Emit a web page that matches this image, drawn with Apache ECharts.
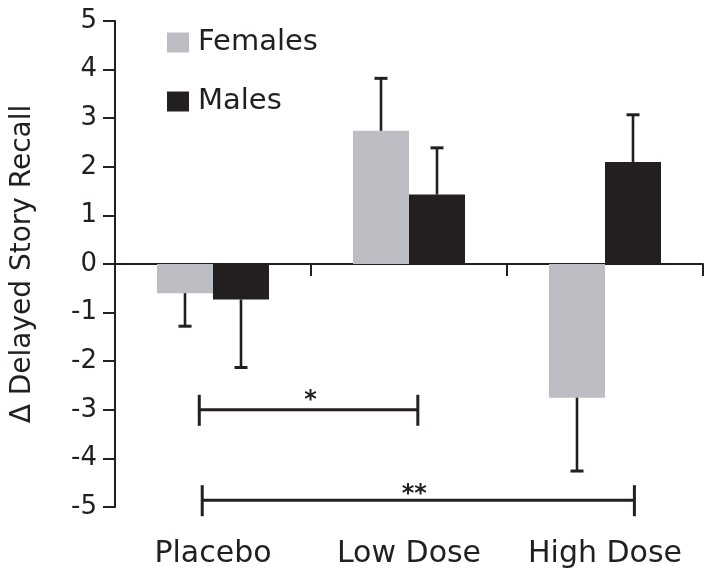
<!DOCTYPE html>
<html>
<head>
<meta charset="utf-8">
<script src="https://cdn.jsdelivr.net/npm/echarts@6/dist/echarts.min.js"></script>
<style>html,body{margin:0;padding:0;background:#fff;}#c{width:714px;height:580px;}</style>
</head>
<body>
<div id="c"></div>
<script>
// ---- data ----
const categories = ['Placebo', 'Low Dose', 'High Dose'];
const femalesMean = [-0.6, 2.74, -2.75];
const malesMean = [-0.73, 1.43, 2.1];
const femalesErr = [0.68, 1.08, 1.51];
const malesErr = [1.4, 0.96, 0.97];
const yTicks = [-5, -4, -3, -2, -1, 0, 1, 2, 3, 4, 5];
// significance brackets (x in category units along the axis, 0..3)
const sigFrom = [0.43, 0.445];
const sigTo = [1.545, 2.65];
const sigY = [-3, -4.86];
const sigText = ['*', '**'];

const FONT = '"DejaVu Sans", sans-serif';
const INK = '#231f20';
const FEMALE_COLOR = '#bdbdc4';
const BAR_W = 56;
const STAR_DX = [2, -4];
const STAR_DY = [-15, -11];

const chart = echarts.init(document.getElementById('c'), null, {renderer: 'canvas'});

function errData(means, errs, sign) {
  return means.map((m, i) => [i, m, errs[i], sign]);
}

function renderErr(params, api) {
  const i = api.value(0), m = api.value(1), e = api.value(2), s = api.value(3);
  const base = api.coord([i, m]);
  const end = api.coord([i, m + (m >= 0 ? e : -e)]);
  const x = base[0] + s * BAR_W / 2;
  const st = {stroke: INK, lineWidth: 2.6};
  return {
    type: 'group',
    children: [
      {type: 'line', shape: {x1: x, y1: base[1], x2: x, y2: end[1]}, style: st},
      {type: 'line', shape: {x1: x - 6.5, y1: end[1], x2: x + 6.5, y2: end[1]}, style: {stroke: INK, lineWidth: 3}}
    ]
  };
}

function renderSig(params, api) {
  const a = api.coord([api.value(0), api.value(2)]);
  const b = api.coord([api.value(1), api.value(2)]);
  const k = params.dataIndex;
  const t = sigText[k];
  const st = {stroke: INK, lineWidth: 3};
  return {
    type: 'group',
    children: [
      {type: 'line', shape: {x1: a[0], y1: a[1], x2: b[0], y2: b[1]}, style: st},
      {type: 'line', shape: {x1: a[0], y1: a[1] - 15, x2: a[0], y2: a[1] + 16}, style: st},
      {type: 'line', shape: {x1: b[0], y1: b[1] - 15, x2: b[0], y2: b[1] + 16}, style: st},
      {type: 'text', x: (a[0] + b[0]) / 2 + STAR_DX[k], y: a[1] + STAR_DY[k] + 6,
        style: {text: t, fill: INK, font: 'bold 24px ' + FONT, align: 'center', verticalAlign: 'middle'}}
    ]
  };
}

const option = {
  backgroundColor: '#ffffff',
  animation: false,
  textStyle: {fontFamily: FONT},
  grid: {left: 115, right: 11, top: 21, bottom: 73, containLabel: false},
  legend: {
    orient: 'vertical', left: 162, top: 23,
    itemWidth: 22, itemHeight: 20, itemGap: 30,
    icon: 'rect',
    textStyle: {fontSize: 29, color: INK, fontFamily: FONT, padding: [0, 0, 0, 4]},
    data: ['Females', 'Males']
  },
  xAxis: [
    {
      type: 'category', data: categories, position: 'bottom',
      axisLine: {onZero: true, lineStyle: {color: INK, width: 2}},
      axisTick: {show: true, length: 12, lineStyle: {color: INK, width: 2}},
      axisLabel: {show: false},
      splitLine: {show: false}
    },
    {
      type: 'category', data: categories, position: 'bottom',
      axisLine: {show: false, onZero: false},
      axisTick: {show: false},
      axisLabel: {show: true, interval: 0, fontSize: 30, color: INK, fontFamily: FONT, margin: 32}
    },
    {
      type: 'value', min: 0, max: 3, show: false
    }
  ],
  yAxis: {
    type: 'value', min: -5, max: 5, interval: 1,
    name: 'Δ Delayed Story Recall', nameLocation: 'middle', nameGap: 78,
    nameTextStyle: {fontSize: 28, color: INK, fontFamily: FONT},
    axisLine: {show: true, lineStyle: {color: INK, width: 2}},
    axisTick: {show: true, length: 12, lineStyle: {color: INK, width: 2}},
    axisLabel: {fontSize: 26, color: INK, fontFamily: FONT, margin: 18,
      formatter: v => yTicks.indexOf(v) >= 0 ? String(v) : ''},
    splitLine: {show: false}
  },
  series: [
    {name: 'Females', type: 'bar', data: femalesMean, barWidth: BAR_W, barGap: '0%',
      itemStyle: {color: FEMALE_COLOR}},
    {name: 'Males', type: 'bar', data: malesMean, barWidth: BAR_W, barGap: '0%',
      itemStyle: {color: INK}},
    {type: 'custom', renderItem: renderErr, data: errData(femalesMean, femalesErr, -1), z: 3, silent: true},
    {type: 'custom', renderItem: renderErr, data: errData(malesMean, malesErr, 1), z: 3, silent: true},
    {type: 'custom', xAxisIndex: 2, renderItem: renderSig, z: 4, silent: true,
      data: sigFrom.map((f, i) => [f, sigTo[i], sigY[i]])}
  ]
};
chart.setOption(option);
</script>
</body>
</html>
